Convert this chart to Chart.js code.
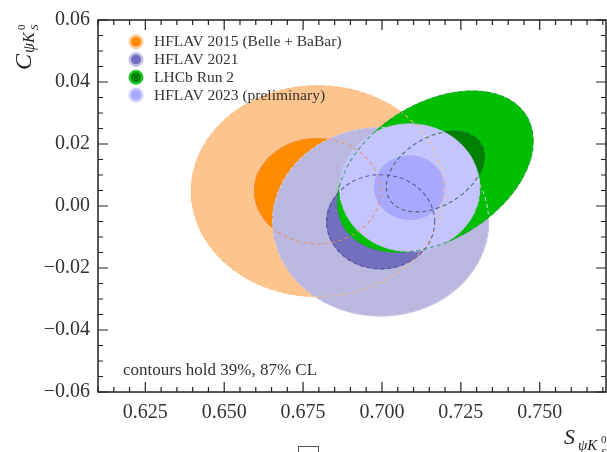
<!DOCTYPE html>
<html>
<head>
<meta charset="utf-8">
<script src="https://cdn.jsdelivr.net/npm/chart.js@4.4.0/dist/chart.umd.min.js"></script>
<style>
  html, body { margin: 0; padding: 0; background: #fff; overflow: hidden; }
</style>
</head>
<body>
<canvas id="chart" width="607" height="452"></canvas>
<script>
const measurements = ["HFLAV 2015 (Belle + BaBar)", "HFLAV 2021", "LHCb Run 2", "HFLAV 2023 (preliminary)"];
const sValues = [0.6796, 0.6996, 0.7169, 0.7088];
const cValues = [0.0048, -0.0051, 0.0111, 0.0059];
const sErrors = [0.0200, 0.0171, 0.0155, 0.0111];
const cErrors = [0.0170, 0.0152, 0.0130, 0.0103];
const correlations = [0, 0, 0.38, 0];
const contourSigmas = [2, 1]; // 87% CL, 39% CL

const outerColors = ["#fdc48e", "#bab8de", "#00be00", "#c4c4ff"];
const innerColors = ["#ff8c00", "#716fbe", "#008000", "#a8a8ff"];
// dashed outlines drawn over everything (outer, inner)
const outerDash = ["rgba(250,190,130,0.9)", "rgba(215,205,235,0.9)", "rgba(40,150,70,0.8)", null];
const innerDash = ["rgba(235,140,90,0.85)", "rgba(70,70,140,0.8)", "rgba(40,90,70,0.8)", null];

const xTicks = [0.625, 0.650, 0.675, 0.700, 0.725, 0.750];
const yTicks = [-0.06, -0.04, -0.02, 0.00, 0.02, 0.04, 0.06];
const minorStep = 0.005;
const xRange = [0.61, 0.771];
const yRange = [-0.06, 0.06];

const serif = '"Liberation Serif", "DejaVu Serif", serif';

function contour(i, k) {
  const rho = correlations[i];
  const pts = [];
  for (let j = 0; j <= 200; j++) {
    const t = (2 * Math.PI * j) / 200;
    pts.push({
      x: sValues[i] + k * sErrors[i] * Math.cos(t),
      y: cValues[i] + k * cErrors[i] * (rho * Math.cos(t) + Math.sqrt(1 - rho * rho) * Math.sin(t)),
    });
  }
  return pts;
}

function isMajor(v, list) {
  return list.some((m) => Math.abs(m - v) < 1e-9);
}

function minorValues(range) {
  const out = [];
  for (let k = Math.ceil(range[0] / minorStep - 1e-9); k * minorStep <= range[1] + 1e-9; k++) {
    out.push(+(k * minorStep).toFixed(4));
  }
  return out;
}

let datasets = [];
let layer = 0;
measurements.forEach((name, i) => {
  contourSigmas.forEach((k, j) => {
    const col = j === 0 ? outerColors[i] : innerColors[i];
    datasets.push({
      label: name,
      data: contour(i, k),
      showLine: true,
      fill: "shape",
      backgroundColor: col,
      borderColor: col,
      borderWidth: 0.8,
      pointRadius: 0,
      order: -layer++,
    });
  });
});
measurements.forEach((name, i) => {
  contourSigmas.forEach((k, j) => {
    const col = j === 0 ? outerDash[i] : innerDash[i];
    if (!col) return;
    datasets.push({
      label: name + " outline",
      data: contour(i, k),
      showLine: true,
      fill: false,
      borderColor: col,
      borderWidth: 1.1,
      borderDash: [4, 3],
      pointRadius: 0,
      order: -layer++,
    });
  });
});

const decorations = {
  id: "decorations",
  afterDraw(chart) {
    const { ctx, chartArea: a, scales } = chart;
    const x = scales.x, y = scales.y;
    ctx.save();

    // inward ticks on all four sides
    ctx.strokeStyle = "#222";
    ctx.lineWidth = 1.2;
    minorValues(xRange).forEach((v) => {
      const px = x.getPixelForValue(v);
      const len = isMajor(v, xTicks) ? 10 : 5;
      ctx.beginPath();
      ctx.moveTo(px, a.bottom); ctx.lineTo(px, a.bottom - len);
      ctx.moveTo(px, a.top); ctx.lineTo(px, a.top + len);
      ctx.stroke();
    });
    minorValues(yRange).forEach((v) => {
      const py = y.getPixelForValue(v);
      const len = isMajor(v, yTicks) ? 10 : 5;
      ctx.beginPath();
      ctx.moveTo(a.left, py); ctx.lineTo(a.left + len, py);
      ctx.moveTo(a.right, py); ctx.lineTo(a.right - len, py);
      ctx.stroke();
    });
    ctx.lineWidth = 1.5;
    ctx.strokeRect(a.left, a.top, a.right - a.left, a.bottom - a.top);

    // legend
    const rowY = [41.7, 59.5, 77.2, 95];
    measurements.forEach((name, i) => {
      const cy = rowY[i];
      ctx.globalAlpha = 0.85;
      ctx.fillStyle = outerColors[i];
      ctx.beginPath(); ctx.arc(136, cy, 7.5, 0, Math.PI * 2); ctx.fill();
      ctx.globalAlpha = 1;
      ctx.fillStyle = innerColors[i];
      ctx.beginPath(); ctx.arc(136, cy, 5, 0, Math.PI * 2); ctx.fill();
      ctx.fillStyle = "#333";
      ctx.font = "15.5px " + serif;
      ctx.textBaseline = "middle";
      ctx.textAlign = "left";
      ctx.fillText(name, 154, cy + 0.5);
    });

    // note
    ctx.textBaseline = "alphabetic";
    ctx.font = "17px " + serif;
    ctx.fillText("contours hold 39%, 87% CL", 123, 375);

    // x title
    ctx.fillStyle = "#222";
    ctx.font = "italic 22px " + serif;
    ctx.fillText("S", 564, 444);
    ctx.font = "italic 15px " + serif;
    ctx.fillText("\u03C8K", 578, 450);
    ctx.font = "11px " + serif;
    ctx.fillText("0", 601, 443);
    ctx.font = "italic 11px " + serif;
    ctx.fillText("S", 601, 456);

    // y title (rotated)
    ctx.save();
    ctx.translate(31, 70);
    ctx.rotate(-Math.PI / 2);
    ctx.font = "italic 24px " + serif;
    ctx.fillText("C", 0, 0);
    ctx.font = "italic 16px " + serif;
    ctx.fillText("\u03C8K", 17, 3);
    ctx.font = "11px " + serif;
    ctx.fillText("0", 40, -6);
    ctx.font = "italic 11px " + serif;
    ctx.fillText("S", 40, 7);
    ctx.restore();

    // stray box at the bottom of the original image
    ctx.strokeStyle = "#555";
    ctx.lineWidth = 1;
    ctx.strokeRect(298.5, 446.5, 20, 10);

    ctx.restore();
  },
};

const config = {
  type: "scatter",
  data: { datasets: datasets },
  options: {
    responsive: false,
    animation: false,
    events: [],
    layout: { padding: { top: 14, right: 1, left: 0, bottom: 0 } },
    plugins: {
      legend: { display: false },
      tooltip: { enabled: false },
    },
    scales: {
      x: {
        type: "linear",
        min: xRange[0],
        max: xRange[1],
        afterBuildTicks: (scale) => {
          scale.ticks = xTicks.map((v) => ({ value: v }));
        },
        afterFit: (scale) => { scale.height = 60; },
        grid: { display: false, drawTicks: false },
        border: { display: false },
        ticks: {
          autoSkip: false,
          maxRotation: 0,
          padding: 9,
          color: "#333",
          font: { family: serif, size: 20 },
          callback: (v) => v.toFixed(3),
        },
      },
      y: {
        type: "linear",
        min: yRange[0],
        max: yRange[1],
        afterBuildTicks: (scale) => {
          scale.ticks = yTicks.map((v) => ({ value: v }));
        },
        afterFit: (scale) => { scale.width = 98; },
        grid: { display: false, drawTicks: false },
        border: { display: false },
        ticks: {
          autoSkip: false,
          padding: 8,
          color: "#333",
          font: { family: serif, size: 20 },
          callback: (v) => (v < -1e-9 ? "\u2212" : "") + Math.abs(v).toFixed(2),
        },
      },
    },
  },
  plugins: [decorations],
};

new Chart(document.getElementById("chart"), config);
</script>
</body>
</html>
